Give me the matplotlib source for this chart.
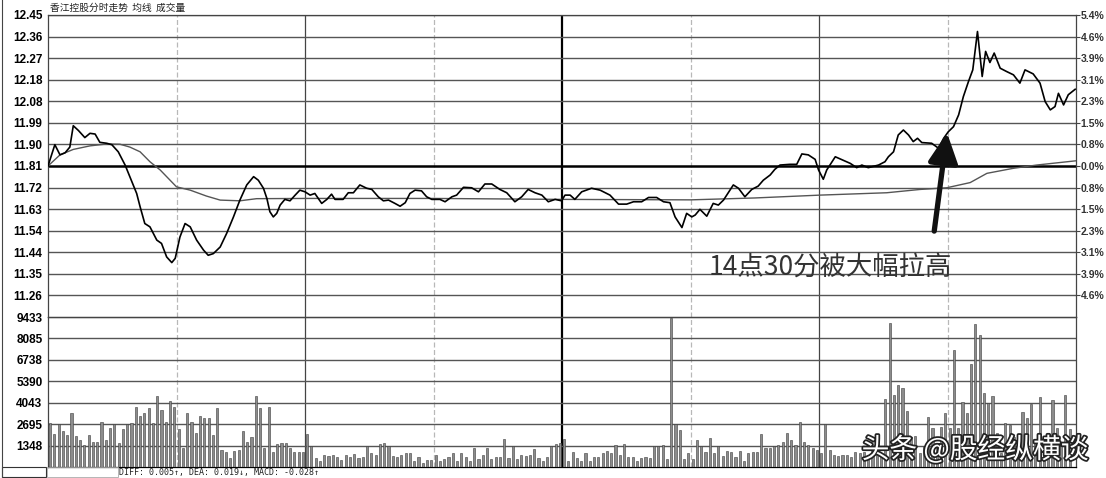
# 分时走势图 (intraday price + volume)

import numpy as np
import matplotlib.pyplot as plt
import matplotlib.patheffects as pe
from matplotlib.patches import Rectangle
from matplotlib.lines import Line2D

plt.rcParams['font.family'] = ['DejaVu Sans', 'Noto Sans CJK SC']

prev_close = 11.81
price_labels = ['12.45', '12.36', '12.27', '12.18', '12.08', '11.99', '11.90',
                '11.81', '11.72', '11.63', '11.54', '11.44', '11.35', '11.26']
pct_labels = ['5.4%', '4.6%', '3.9%', '3.1%', '2.3%', '1.5%', '0.8%',
              '0.0%', '0.8%', '1.5%', '2.3%', '3.1%', '3.9%', '4.6%']
vol_labels = ['9433', '8085', '6738', '5390', '4043', '2695', '1348']

# minute, price
price_t = [0, 1.6, 2.8, 4.0, 5.1, 5.9, 7.1, 8.6, 9.8, 11.0, 12.1, 13.7, 14.9, 16.4, 18.0,
           19.1, 20.7, 21.5, 22.6, 23.8, 25.4, 26.5, 27.7, 28.9, 29.7, 30.8, 32.0, 33.2,
           34.7, 36.3, 37.4, 38.6, 40.2, 41.7, 43.3, 44.8, 46.4, 48.0, 49.1, 50.3, 51.1,
           51.8, 52.6, 53.4, 54.2, 55.3, 56.5, 57.7, 58.8, 60.0,
           61.2, 62.3, 63.9, 65.1, 66.2, 67.0, 68.9, 70.1, 71.3, 72.8, 74.4, 75.6, 77.1,
           78.3, 79.5, 81.0, 82.2, 83.4, 84.5, 85.7, 87.2, 88.4, 89.6, 91.5, 92.7, 94.3,
           95.4, 97.0, 98.9, 100.5, 102.0, 103.6, 105.5, 107.1, 109.0, 110.6, 112.1,
           113.7, 115.3, 116.8, 118.4, 119.9,
           120.7, 121.9, 123.0, 124.6, 126.9, 128.9, 131.2, 133.2, 135.1, 136.7, 138.6,
           140.2, 142.1, 143.7, 145.2, 146.4, 148.0, 149.1, 150.3, 151.1, 152.2, 153.8,
           155.3, 156.5, 157.7, 158.8, 160.0, 161.2, 162.7, 164.3, 165.8, 167.0, 168.6,
           169.7, 170.9, 173.2, 174.8, 176.0, 177.5, 179.1, 179.9, 181.0,
           181.8, 183.8, 187.3, 188.8, 190.0, 191.5, 193.9, 195.4, 196.2, 197.4, 198.5,
           199.7, 200.9, 202.0, 203.0, 204.0, 206.3, 207.9, 209.1, 210.2, 211.4, 212.6,
           213.7, 214.9, 215.9, 217.0, 218.1, 218.9, 219.9, 220.9, 222.3, 223.8, 225.4,
           226.9, 228.1, 230.0, 231.6, 232.8, 234.0, 235.1, 235.9, 237.1, 238.2, 239.8]
price_v = [11.81, 11.90, 11.857, 11.866, 11.89, 11.98, 11.96, 11.93, 11.948, 11.945, 11.91,
           11.906, 11.90, 11.87, 11.814, 11.765, 11.694, 11.638, 11.567, 11.553, 11.497,
           11.483, 11.426, 11.402, 11.42, 11.51, 11.567, 11.553, 11.497, 11.455, 11.433,
           11.44, 11.468, 11.525, 11.595, 11.666, 11.73, 11.765, 11.75, 11.716, 11.673,
           11.617, 11.595, 11.61, 11.645, 11.669, 11.663, 11.687, 11.708, 11.701,
           11.687, 11.694, 11.652, 11.669, 11.691, 11.669, 11.669, 11.697, 11.697, 11.73,
           11.716, 11.711, 11.68, 11.663, 11.666, 11.652, 11.64, 11.655, 11.694, 11.708,
           11.705, 11.68, 11.669, 11.669, 11.659, 11.68, 11.687, 11.72, 11.718, 11.701,
           11.734, 11.734, 11.711, 11.697, 11.659, 11.68, 11.711, 11.697, 11.687, 11.659,
           11.669, 11.663,
           11.687, 11.687, 11.669, 11.701, 11.716, 11.708, 11.687, 11.649, 11.649, 11.659,
           11.659, 11.677, 11.677, 11.659, 11.655, 11.595, 11.55, 11.61, 11.595, 11.603,
           11.627, 11.598, 11.652, 11.645, 11.666, 11.697, 11.73, 11.716, 11.68, 11.711,
           11.725, 11.75, 11.772, 11.796, 11.814, 11.817, 11.817, 11.861, 11.857, 11.838,
           11.793, 11.754,
           11.793, 11.849, 11.821, 11.803, 11.814, 11.803, 11.814, 11.828, 11.849, 11.87,
           11.941, 11.962, 11.941, 11.913, 11.927, 11.909, 11.906, 11.885, 11.927, 11.955,
           11.976, 12.026, 12.103, 12.167, 12.216, 12.378, 12.188, 12.294, 12.247, 12.287,
           12.223, 12.209, 12.195, 12.16, 12.216, 12.199, 12.16, 12.082, 12.047, 12.061,
           12.117, 12.068, 12.111, 12.134]

avg_t = [0, 2.8, 5.9, 9.8, 13.7, 16.8, 19.1, 21.5, 23.8, 26.2, 28.5, 30.0, 33.2, 37.0,
         40.2, 44.8, 48.7, 60.4, 90, 120, 150, 165, 180.2, 195.8, 203.6, 209.8, 215.3,
         219.2, 225.3, 230.8, 240]
avg_v = [11.81, 11.857, 11.88, 11.895, 11.903, 11.902, 11.89, 11.87, 11.828, 11.793, 11.75,
         11.722, 11.708, 11.683, 11.666, 11.663, 11.672, 11.673, 11.673, 11.669, 11.667,
         11.675, 11.687, 11.697, 11.711, 11.718, 11.74, 11.779, 11.80, 11.814, 11.832]

vol_am1 = [2750, 2080, 2680, 2270, 2020, 3370, 1970, 1700, 1390, 2020,
           1560, 1560, 2850, 1700, 2430, 2680, 1490, 2390, 2710, 2790,
           3750, 3210, 3370, 3690, 2790, 4460, 3580, 2850, 4150, 3790,
           2390, 1220, 3370, 2850, 2160, 3210, 3100, 3060, 2020, 3730,
           1080, 970, 550, 1010, 1080, 2270, 1560, 1910, 4480, 3690,
           1220, 3790, 930, 1450, 1490, 1490, 1180, 930, 970, 970,
           2060, 1290, 550, 390, 760, 720, 760, 660, 450, 760,
           600, 830, 550, 660, 1350, 870, 760, 1430, 1540, 1350,
           700, 620]
vol_am2 = [760, 870, 870, 390, 620, 240, 410, 450, 760, 350,
           490, 660, 870, 350, 870, 660, 350, 1220, 490, 760,
           1180, 490, 660, 620, 1740, 550, 1290, 490, 760, 700,
           760, 1120, 550, 350, 660, 1290, 1450, 1500, 1740, 350, 970,
           550, 350, 910, 350, 660, 660, 870, 1030, 870, 1390,
           760, 1450, 660, 660, 350, 550, 660, 550, 1290, 1330,
           1390, 490, 9400, 2710, 2330, 490, 870, 490, 1700, 1330,
           970, 1810, 910, 1330, 700, 1030, 970, 620, 1030, 350,
           910, 970, 970, 2080, 1220, 1180, 1290, 1390]
vol_pm = [1600, 2120, 1700, 1390, 2850, 1600, 1390, 1180, 1100, 870,
          2680, 1080, 760, 720, 760, 760, 660, 970, 870, 970,
          760, 1080, 970, 660, 4250, 9080, 4560, 5150, 4980, 3540,
          1910, 1950, 870, 1290, 3170, 2430, 1290, 2540, 3370, 2430,
          7340, 2430, 4110, 3420, 6510, 9010, 8280, 4630, 4000, 4460,
          2120, 870, 2750, 2640, 1910, 1490, 3480, 3060, 3940, 1700,
          4380, 1290, 2120, 4210, 2430, 1290, 4520, 2370]
volume = vol_am1 + vol_am2 + vol_pm

W, H = 1106, 478
fig = plt.figure(figsize=(W / 100, H / 100), dpi=100)
fig.patch.set_facecolor('white')

ax = fig.add_axes([48 / W, 1 - 317 / H, 1028 / W, 302 / H])
axv = fig.add_axes([48 / W, 1 - 467 / H, 1028 / W, 150 / H])

step = prev_close * 0.054 / 7
levels = [prev_close + step * k for k in range(7, -7, -1)]
tick_font = dict(family='Liberation Sans', fontweight='bold')

for a in (ax, axv):
    a.set_xlim(0, 240)
    a.set_xticks([])
    for t in (30, 90, 150, 210):
        a.axvline(t, color='#b8b8b8', lw=0.9, ls=(0, (4, 2)), zorder=1)
    for t in (60, 180):
        a.axvline(t, color='#444444', lw=0.9, zorder=1)
    a.axvline(120, color='black', lw=1.6, zorder=1)
    for s in a.spines.values():
        s.set_color('#444444')
        s.set_linewidth(0.9)

# price panel
ax.set_ylim(prev_close - 7 * step, prev_close + 7 * step)
for lv in levels:
    if lv != prev_close:
        ax.axhline(lv, color='#555555', lw=1.0, zorder=1)
ax.axhline(prev_close, color='black', lw=1.8, zorder=2)
ax.plot(avg_t, avg_v, color='#555555', lw=1.0, zorder=3)
ax.plot(price_t, price_v, color='black', lw=1.2, zorder=4)
ax.set_yticks(levels)
ax.set_yticklabels(price_labels, fontsize=8.5, **tick_font)
ax.tick_params(axis='y', length=0, pad=4)

axr = ax.twinx()
axr.set_ylim(ax.get_ylim())
axr.set_yticks(levels)
axr.set_yticklabels(pct_labels, fontsize=7.5, color='#333333', **tick_font)
axr.tick_params(axis='y', length=3, pad=0.5, color='#444444')
for s in axr.spines.values():
    s.set_visible(False)

# volume panel
vol_ticks = [1348 * k for k in range(7, 0, -1)]
axv.set_ylim(0, 9433)
for v in vol_ticks:
    axv.axhline(v, color='#555555', lw=1.0, zorder=1)
axv.bar(np.arange(len(volume)) + 0.5, volume, width=0.5, color='#8c8c8c',
        edgecolor='#3c3c3c', lw=0.4, zorder=3)
axv.set_yticks(vol_ticks)
axv.set_yticklabels(vol_labels, fontsize=8.5, **tick_font)
axv.tick_params(axis='y', length=0, pad=4)
axv.spines['bottom'].set_color('black')

# annotation
ax.text(182.7, 11.378, '14点30分被大幅拉高', fontsize=19, color='#333333',
        ha='center', va='center', family=['Noto Sans CJK SC'], zorder=5)
ax.annotate('', xy=(209.9, 11.95), xytext=(206.9, 11.535),
            arrowprops=dict(arrowstyle='-|>,head_length=0.6,head_width=0.3',
                            lw=3.8, color='#111111', mutation_scale=30,
                            shrinkA=0, shrinkB=0), zorder=6)

# header and footer bits
fig.text(50 / W, 1 - 8 / H, '香江控股分时走势  均线  成交量', fontsize=7,
         family=['Noto Sans CJK SC'], va='center', color='#222222')
fig.text(119 / W, 1 - 472 / H, 'DIFF: 0.005↑, DEA: 0.019↓, MACD: -0.028↑',
         fontsize=6, family='DejaVu Sans Mono', va='center', color='#222222')
fig.add_artist(Rectangle((2 / W, 1 - 477 / H), 44 / W, 10 / H, transform=fig.transFigure,
                         fill=False, ec='#333333', lw=0.8))
fig.add_artist(Rectangle((47 / W, 1 - 477 / H), 71 / W, 10 / H, transform=fig.transFigure,
                         fill=False, ec='#aaaaaa', lw=0.6))
fig.add_artist(Line2D([1.5 / W, 1.5 / W], [0, 1], transform=fig.transFigure,
                      color='#444444', lw=0.8))

fig.text((858 + 1092) / 2 / W, 1 - 450 / H, '头条 @股经纵横谈', fontsize=20,
         color='white', ha='center', va='center', family=['Noto Sans CJK SC'],
         path_effects=[pe.withStroke(linewidth=2.5, foreground='#222222')])

fig.savefig('out.png', dpi=100)
